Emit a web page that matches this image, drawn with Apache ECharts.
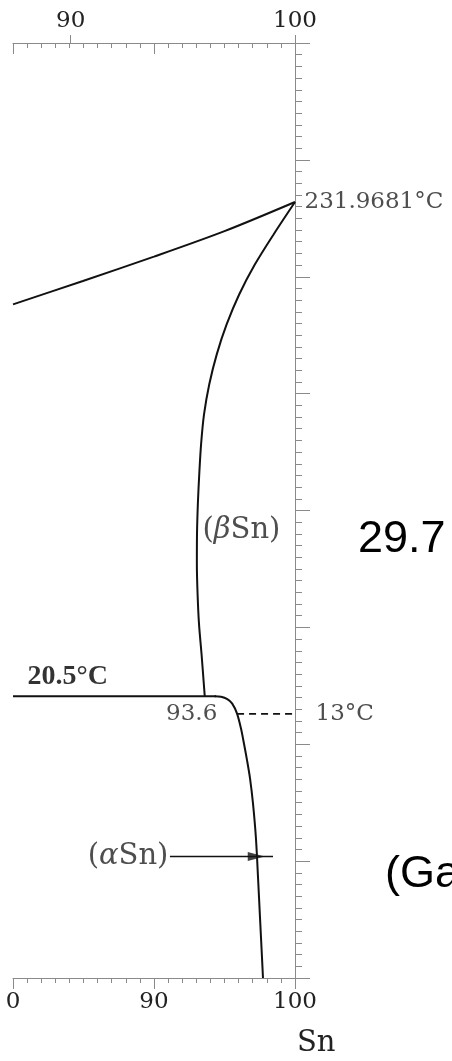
<!DOCTYPE html>
<html><head><meta charset="utf-8">
<script src="https://cdn.jsdelivr.net/npm/echarts@6/dist/echarts.min.js"></script>
<style>html,body{margin:0;padding:0;background:#fff}#c{width:452px;height:1061px}</style>
</head><body><div id="c"></div>
<script>
// Sn-rich corner of the Ga–Sn phase diagram: composition (at.% Sn) against temperature (°C)

// axis ticks
const bottomTicks = [80, 90, 100];
const bottomTickLabels = ['0', '90', '100'];
const topTicks = [84.09, 100];          // 90 and 100 wt.% Sn on the at.% scale
const topTickLabels = ['90', '100'];

// phase boundaries
const liquidus = [[80, 188.2], [84.96, 198.2], [90, 208.6], [95, 219.5], [100, 231.9681]];
const betaSolvus = [[100, 231.9681], [98.47, 218.0], [97.15, 205.2], [96.04, 192.4], [95.15, 179.6], [94.45, 166.8],
  [93.92, 154.0], [93.55, 141.2], [93.34, 128.4], [93.21, 115.6], [93.11, 102.8], [93.05, 90.0], [93.04, 77.2],
  [93.09, 64.4], [93.19, 51.6], [93.37, 38.7], [93.6, 20.5]];
const eutectic = [[80, 20.5], [94.4, 20.5]];
const alphaBoundary = [[94.3, 20.5], [94.75, 20.3], [95.2, 19.3], [95.55, 17.4], [95.89, 13.1], [96.17, 6.7],
  [96.38, 0.3], [96.6, -6.9], [96.81, -14.6], [97.02, -25.3], [97.23, -40.2], [97.38, -57.3], [97.52, -74.4],
  [97.66, -91.4], [97.73, -100]];
const alphaBeta = [[95.89, 13], [100, 13]];
const arrowLine = [[91.13, -48], [98.44, -48]];
const arrowTip = [[97.25, -48]];

// annotations
const meltPoint = [100, 231.9681];
const transition = [100, 13];
const eutecticEnd = [93.6, 20.5];
const eutecticTemp = [80, 20.5];
const betaLabelAt = [93.4, 91.3];

const serif = 'DejaVu Serif';
const ink = '#111';
const axisGrey = '#8a8a8a';
const txt = '#222';

const chart = echarts.init(document.getElementById('c'));

function pointLabel(pt, text, label) {
  return {
    type: 'scatter', data: [pt], symbolSize: 1, silent: true,
    itemStyle: { color: 'rgba(0,0,0,0)' },
    label: Object.assign({ show: true, formatter: text, color: txt, fontFamily: serif, fontSize: 23 }, label),
    z: 5
  };
}

const lineBase = { type: 'line', showSymbol: false, symbol: 'none', silent: true, clip: false };

chart.setOption({
  animation: false,
  backgroundColor: '#fff',
  grid: { left: 13, right: 157, top: 43, bottom: 83 },
  xAxis: [
    {
      type: 'value', position: 'bottom', min: 80, max: 100, interval: 10,
      axisLine: { show: true, onZero: false, lineStyle: { color: axisGrey, width: 1 } },
      axisTick: { show: true, inside: false, length: 11, lineStyle: { color: axisGrey } },
      minorTick: { show: true, splitNumber: 10, length: 5, lineStyle: { color: axisGrey } },
      splitLine: { show: false },
      axisLabel: {
        margin: 13, color: txt, fontFamily: serif, fontSize: 23,
        formatter: v => bottomTickLabels[bottomTicks.indexOf(v)] || ''
      }
    },
    {
      type: 'value', position: 'top', min: 80, max: 100, interval: 10,
      axisLine: { show: true, onZero: false, lineStyle: { color: axisGrey, width: 1 } },
      axisTick: { show: true, inside: true, length: 11, lineStyle: { color: axisGrey } },
      minorTick: { show: true, splitNumber: 10, length: 5, lineStyle: { color: axisGrey } },
      splitLine: { show: false },
      axisLabel: { show: false }
    },
    {
      type: 'value', position: 'top', min: 80, max: 100,
      axisLine: { show: false, onZero: false },
      axisTick: { show: true, inside: false, length: 8, customValues: topTicks, lineStyle: { color: axisGrey } },
      splitLine: { show: false },
      axisLabel: {
        margin: 10, color: txt, fontFamily: serif, fontSize: 23, customValues: topTicks,
        formatter: v => {
          const i = topTicks.findIndex(t => Math.abs(t - v) < 1e-6);
          return i >= 0 ? topTickLabels[i] : '';
        }
      }
    }
  ],
  yAxis: [{
    type: 'value', position: 'right', min: -100, max: 300, interval: 50,
    axisLine: { show: true, onZero: false, lineStyle: { color: axisGrey, width: 1 } },
    axisTick: { show: true, inside: false, length: 15, lineStyle: { color: axisGrey } },
    minorTick: { show: true, splitNumber: 10, length: 7, lineStyle: { color: axisGrey } },
    splitLine: { show: false },
    axisLabel: { show: false }
  }],
  series: [
    Object.assign({}, lineBase, { data: liquidus, smooth: 0.3, lineStyle: { color: ink, width: 2 } }),
    Object.assign({}, lineBase, { data: betaSolvus, smooth: 0.3, lineStyle: { color: ink, width: 2 } }),
    Object.assign({}, lineBase, { data: eutectic, lineStyle: { color: ink, width: 2 } }),
    Object.assign({}, lineBase, { data: alphaBoundary, smooth: 0.3, lineStyle: { color: ink, width: 2 } }),
    Object.assign({}, lineBase, { data: alphaBeta, lineStyle: { color: ink, width: 1.6, type: [7, 5] } }),
    Object.assign({}, lineBase, { data: arrowLine, lineStyle: { color: ink, width: 1.6 } }),
    {
      type: 'scatter', data: arrowTip, symbol: 'triangle', symbolRotate: -90, symbolSize: [9, 17],
      itemStyle: { color: ink }, silent: true, z: 4
    },
    pointLabel(meltPoint, '231.9681°C', { position: 'right', distance: 9 }),
    pointLabel(transition, '13°C', { position: 'right', distance: 20 }),
    pointLabel(eutecticEnd, '93.6', { position: [13, 18], align: 'right', verticalAlign: 'middle' }),
    pointLabel(eutecticTemp, '20.5°C', {
      position: [15, -19], align: 'left', verticalAlign: 'middle',
      fontFamily: 'Liberation Serif', fontWeight: 'bold', fontSize: 28, color: '#000'
    }),
    pointLabel(betaLabelAt, '({b|β}Sn)', {
      position: 'right', distance: 0, fontSize: 29,
      rich: { b: { fontStyle: 'italic', fontFamily: serif, fontSize: 29, color: txt } }
    }),
    pointLabel(arrowLine[0], '({a|α}Sn)', {
      position: 'left', distance: 1, fontSize: 29,
      rich: { a: { fontStyle: 'italic', fontFamily: serif, fontSize: 29, color: txt } }
    })
  ],
  graphic: [
    { type: 'text', left: 358, top: 517, style: { text: '29.7', fontFamily: 'Liberation Sans', fontSize: 45, fill: '#000' } },
    { type: 'text', left: 385, top: 852, style: { text: '(Ga', fontFamily: 'Liberation Sans', fontSize: 45, fill: '#000' } },
    { type: 'text', left: 297, top: 1029, style: { text: 'Sn', fontFamily: serif, fontSize: 29, fill: txt } }
  ]
});
</script>
</body></html>
